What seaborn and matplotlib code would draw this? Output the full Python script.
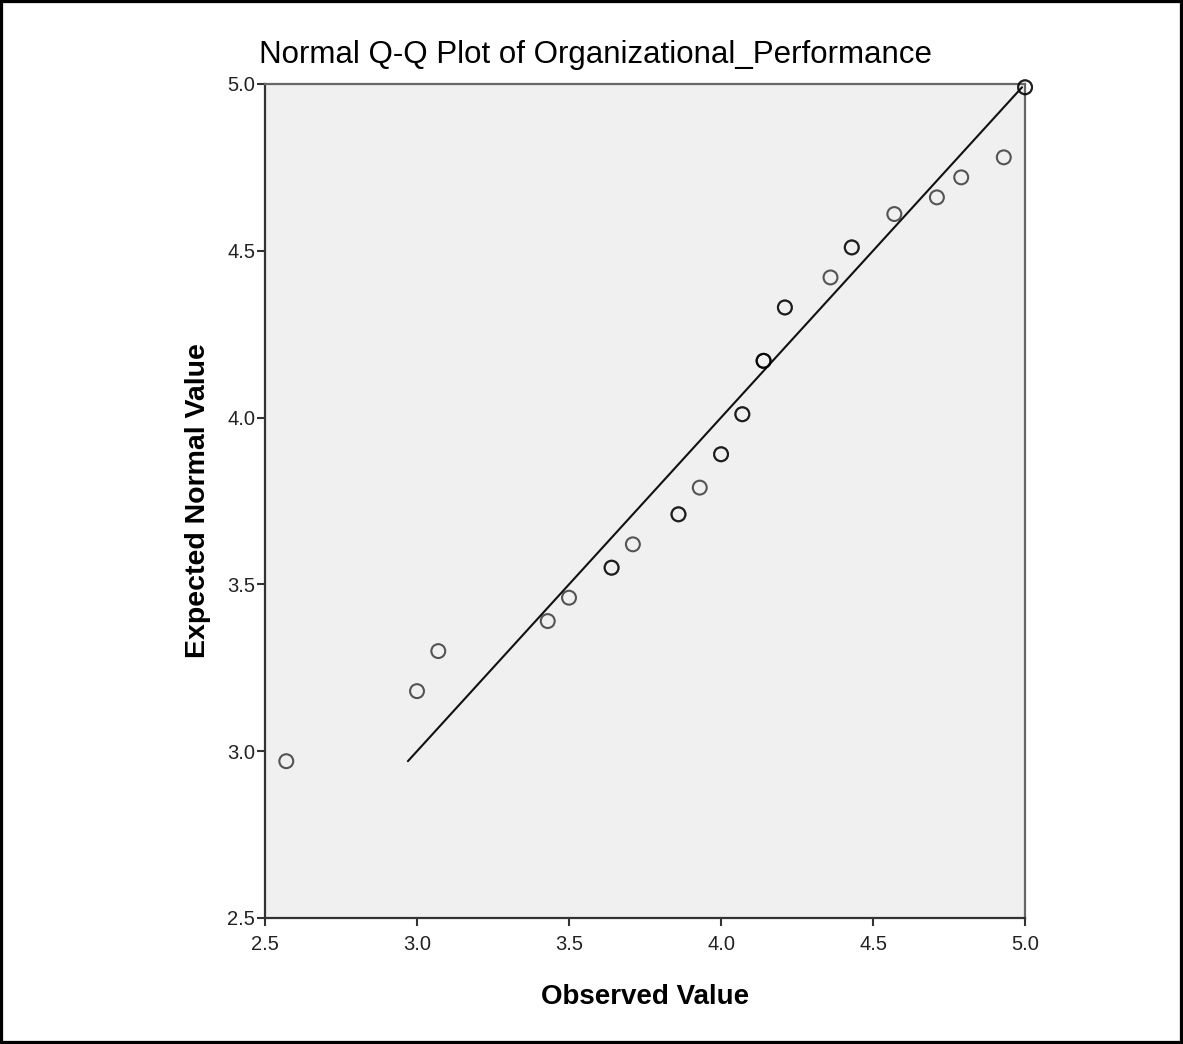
import matplotlib
matplotlib.use("Agg")
import matplotlib.pyplot as plt
import numpy as np
import pandas as pd
import seaborn as sns
from matplotlib.patches import Rectangle

# Observed values vs expected normal values (read from the SPSS output)
observed = [2.57, 3.00, 3.07, 3.43, 3.50, 3.64, 3.71, 3.86, 3.93, 4.00,
            4.07, 4.14, 4.21, 4.36, 4.43, 4.57, 4.71, 4.79, 4.93, 5.00]
expected = [2.97, 3.18, 3.30, 3.39, 3.46, 3.55, 3.62, 3.71, 3.79, 3.89,
            4.01, 4.17, 4.33, 4.42, 4.51, 4.61, 4.66, 4.72, 4.78, 4.99]
# number of cases sharing each value (overlapping circles look darker)
cases = [1, 1, 1, 1, 1, 2, 1, 2, 1, 2, 2, 3, 2, 1, 2, 1, 1, 1, 1, 2]

x_ticks = [2.5, 3.0, 3.5, 4.0, 4.5, 5.0]
y_ticks = [2.5, 3.0, 3.5, 4.0, 4.5, 5.0]

sns.set_theme(style="ticks")
plt.rcParams["font.family"] = ["Liberation Sans", "DejaVu Sans"]

df = pd.DataFrame({"observed": observed, "expected": expected, "cases": cases})
df = df.loc[df.index.repeat(df["cases"])].reset_index(drop=True)

lo, hi = min(expected), max(expected)
ref = pd.DataFrame({"x": [lo, hi], "y": [lo, hi]})

fig = plt.figure(figsize=(11.83, 10.44), dpi=100)
ax = fig.add_axes([0.224, 0.1207, 0.6425, 0.7989])
ax.set_facecolor("#f0f0f0")

sns.lineplot(data=ref, x="x", y="y", ax=ax, color="#111111", linewidth=1.5)
sns.scatterplot(data=df, x="observed", y="expected", ax=ax,
                marker="o", s=100, facecolor="none", edgecolor="black",
                linewidth=1.5, alpha=0.65, clip_on=False, zorder=3)

ax.set_xlim(2.5, 5.0)
ax.set_ylim(2.5, 5.0)
ax.set_xticks(x_ticks)
ax.set_yticks(y_ticks)
ax.set_xticklabels([f"{v:.1f}" for v in x_ticks])
ax.set_yticklabels([f"{v:.1f}" for v in y_ticks])
ax.tick_params(axis="both", direction="out", length=6, width=1.5,
               colors="#333333", labelsize=14.5, labelcolor="#222222")
ax.tick_params(axis="x", pad=6)
ax.tick_params(axis="y", pad=1)

for side in ["left", "bottom"]:
    ax.spines[side].set_color("#333333")
    ax.spines[side].set_linewidth(1.6)
for side in ["top", "right"]:
    ax.spines[side].set_color("#666666")
    ax.spines[side].set_linewidth(1.6)

ax.set_xlabel("Observed Value", fontsize=20, fontweight="bold",
              color="black", labelpad=22)
ax.set_ylabel("Expected Normal Value", fontsize=20.5, fontweight="bold",
              color="black", labelpad=12)

fig.text(0.503, 0.947, "Normal Q-Q Plot of Organizational_Performance",
         ha="center", va="center", fontsize=22.5, color="black")

fig.patches.append(Rectangle((0, 0), 1, 1, transform=fig.transFigure,
                             fill=False, edgecolor="black", linewidth=4.5))

fig.savefig("out.png", dpi=100)
